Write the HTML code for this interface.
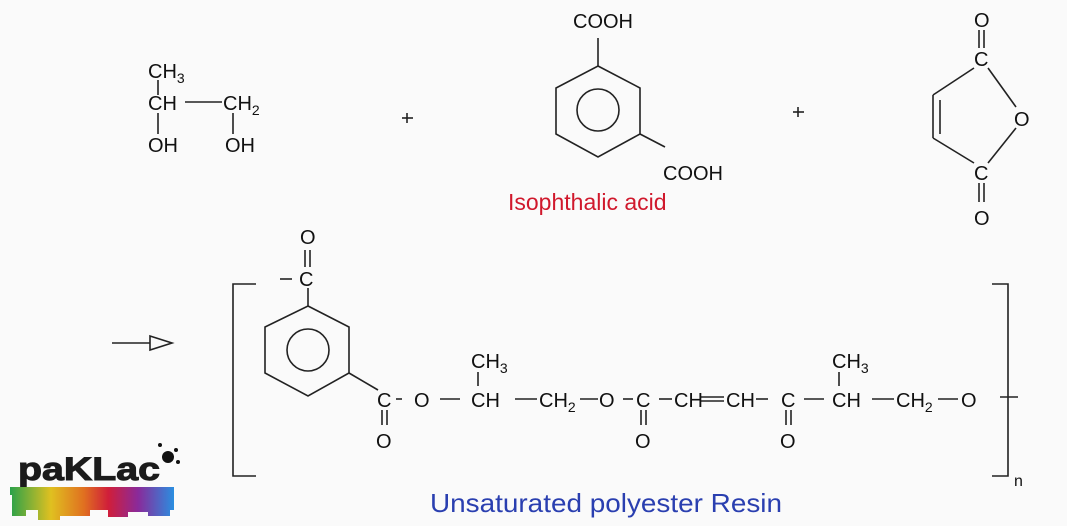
<!DOCTYPE html>
<html><head><meta charset="utf-8"><style>
html,body{margin:0;padding:0;background:#fafafa;}
svg{display:block;}
text{font-family:"Liberation Sans",sans-serif;fill:#111;}
</style></head><body>
<svg width="1067" height="526" viewBox="0 0 1067 526" xmlns="http://www.w3.org/2000/svg">
<rect width="1067" height="526" fill="#fafafa"/>
<g stroke="#222" stroke-width="1.6" fill="none">
<line x1="158" y1="80" x2="158" y2="95"/>
<line x1="185" y1="102" x2="222" y2="102"/>
<line x1="158" y1="113" x2="158" y2="134"/>
<line x1="233" y1="113" x2="233" y2="134"/>
<line x1="402" y1="118" x2="413" y2="118"/><line x1="407" y1="113" x2="407" y2="123"/>
<line x1="793" y1="112" x2="804" y2="112"/><line x1="798" y1="107" x2="798" y2="117"/>
<polygon points="598,66 640,88 640,134 598,157 556,134 556,88"/>
<circle cx="598" cy="110" r="21"/>
<line x1="598" y1="66" x2="598" y2="38"/>
<line x1="640" y1="134" x2="665" y2="147"/>
<line x1="979" y1="30" x2="979" y2="48"/><line x1="984" y1="30" x2="984" y2="48"/>
<line x1="974" y1="68" x2="933" y2="95"/>
<line x1="933" y1="95" x2="933" y2="138"/>
<line x1="940" y1="100" x2="940" y2="134"/>
<line x1="933" y1="138" x2="974" y2="163"/>
<line x1="988" y1="68" x2="1016" y2="107"/>
<line x1="1016" y1="128" x2="988" y2="163"/>
<line x1="979" y1="183" x2="979" y2="202"/><line x1="984" y1="183" x2="984" y2="202"/>
<line x1="112" y1="343" x2="150" y2="343"/>
<polygon points="150,336 172,343 150,350"/>
<polyline points="256,284 233,284 233,476 256,476"/>
<polyline points="992,284 1008,284 1008,476 992,476"/>
<line x1="1000" y1="397" x2="1018" y2="397"/>
<polygon points="308,306 349,327 349,373 308,396 265,373 265,327"/>
<circle cx="308" cy="350" r="21"/>
<line x1="308" y1="306" x2="308" y2="288"/>
<line x1="305" y1="250" x2="305" y2="267"/><line x1="310" y1="250" x2="310" y2="267"/>
<line x1="280" y1="279" x2="292" y2="279"/>
<line x1="349" y1="373" x2="378" y2="390"/>
<line x1="382" y1="410" x2="382" y2="425"/><line x1="387" y1="410" x2="387" y2="425"/>
<line x1="396" y1="399" x2="402" y2="399"/>
<line x1="440" y1="399" x2="460" y2="399"/>
<line x1="478" y1="372" x2="478" y2="386"/>
<line x1="515" y1="399" x2="537" y2="399"/>
<line x1="580" y1="399" x2="598" y2="399"/>
<line x1="623" y1="399" x2="633" y2="399"/>
<line x1="641" y1="410" x2="641" y2="425"/><line x1="646" y1="410" x2="646" y2="425"/>
<line x1="659" y1="399" x2="672" y2="399"/>
<line x1="700" y1="397" x2="724" y2="397"/><line x1="700" y1="401" x2="724" y2="401"/>
<line x1="756" y1="399" x2="768" y2="399"/>
<line x1="786" y1="410" x2="786" y2="425"/><line x1="791" y1="410" x2="791" y2="425"/>
<line x1="804" y1="399" x2="824" y2="399"/>
<line x1="839" y1="372" x2="839" y2="386"/>
<line x1="872" y1="399" x2="894" y2="399"/>
<line x1="938" y1="399" x2="958" y2="399"/>
</g>
<g font-size="20">
<text x="148" y="78">CH<tspan font-size="14" dy="5">3</tspan></text>
<text x="148" y="110">CH</text>
<text x="223" y="110">CH<tspan font-size="14" dy="5">2</tspan></text>
<text x="148" y="152">OH</text>
<text x="225" y="152">OH</text>
<text x="573" y="28">COOH</text>
<text x="663" y="180">COOH</text>
<text x="974" y="27">O</text>
<text x="974" y="66">C</text>
<text x="1014" y="126">O</text>
<text x="974" y="180">C</text>
<text x="974" y="225">O</text>
<text x="300" y="244">O</text>
<text x="299" y="286">C</text>
<text x="377" y="407">C</text>
<text x="414" y="407">O</text>
<text x="471" y="368">CH<tspan font-size="14" dy="5">3</tspan></text>
<text x="471" y="407">CH</text>
<text x="539" y="407">CH<tspan font-size="14" dy="5">2</tspan></text>
<text x="599" y="407">O</text>
<text x="636" y="407">C</text>
<text x="674" y="407">CH</text>
<text x="726" y="407">CH</text>
<text x="781" y="407">C</text>
<text x="832" y="368">CH<tspan font-size="14" dy="5">3</tspan></text>
<text x="832" y="407">CH</text>
<text x="896" y="407">CH<tspan font-size="14" dy="5">2</tspan></text>
<text x="961" y="407">O</text>
<text x="376" y="448">O</text>
<text x="635" y="448">O</text>
<text x="780" y="448">O</text>
<text x="1014" y="486" font-size="16">n</text>
</g>
<text x="508" y="210" font-size="23" style="fill:#d0182c">Isophthalic acid</text>
<text x="430" y="512" font-size="26" style="fill:#2a3fb0" textLength="352" lengthAdjust="spacingAndGlyphs">Unsaturated polyester Resin</text>
<text x="18" y="480" font-size="32" font-weight="bold" style="fill:#1b1b1b;stroke:#1b1b1b;stroke-width:1" textLength="142" lengthAdjust="spacingAndGlyphs">paKLac</text>
<circle cx="168" cy="457" r="6" fill="#111"/><circle cx="178" cy="462" r="2" fill="#111"/><circle cx="160" cy="445" r="2" fill="#111"/><circle cx="176" cy="450" r="2" fill="#111"/>
<defs><linearGradient id="g" x1="0" x2="1"><stop offset="0" stop-color="#2aa14a"/><stop offset=".25" stop-color="#e0c020"/><stop offset=".45" stop-color="#e07020"/><stop offset=".6" stop-color="#d01e3a"/><stop offset=".78" stop-color="#8a2a9a"/><stop offset="1" stop-color="#2a8ee0"/></linearGradient></defs>
<path d="M10,487 H174 V510 H170 V516 H148 V512 H128 V517 H108 V510 H90 V516 H60 V520 H38 V510 H26 V516 H12 V495 H10 Z" fill="url(#g)"/>
</svg>
</body></html>
